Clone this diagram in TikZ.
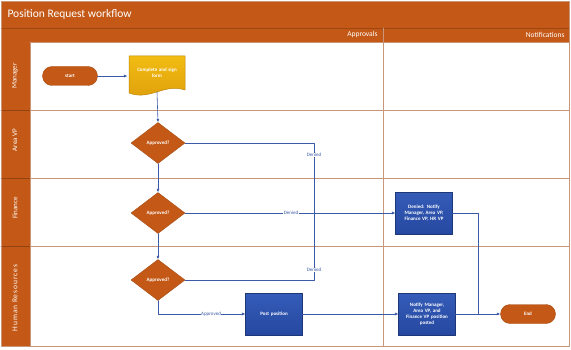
\documentclass[tikz,border=0pt]{standalone}
\usepackage{fontspec}
\setmainfont{Carlito}
\usetikzlibrary{shapes.geometric,arrows.meta}
\definecolor{laneorange}{RGB}{196,89,23}
\definecolor{lanerule}{RGB}{200,150,122}
\definecolor{flowblue}{RGB}{60,90,168}
\definecolor{boxblue}{RGB}{38,72,160}
\definecolor{boxtop}{RGB}{52,92,184}
\definecolor{docgold}{RGB}{242,188,18}
\definecolor{docdark}{RGB}{222,158,12}
\tikzset{
  flow/.style={draw=flowblue, line width=0.6pt},
  arr/.style={flow, -{Latex[length=3.5pt,width=3pt]}},
  shapetext/.style={text=white, font=\fontsize{5}{6}\selectfont\bfseries},
  terminal/.style={rectangle, rounded corners=9.5pt, fill=laneorange, draw=laneorange!85!black,
    minimum width=55pt, minimum height=19pt, shapetext},
  decision/.style={diamond, aspect=1.3, fill=laneorange, draw=laneorange!85!black, inner sep=0pt,
    minimum width=54pt, minimum height=41pt, shapetext},
  process/.style={rectangle, top color=boxtop, bottom color=boxblue, draw=boxblue!75!black,
    minimum width=55pt, minimum height=42pt, text width=50pt, align=center, shapetext},
  flowlabel/.style={fill=white, inner sep=0.6pt, text=flowblue, font=\fontsize{5}{6}\selectfont},
  lanetitle/.style={rotate=90, text=white, font=\fontsize{7}{8}\selectfont},
}
\begin{document}
\begin{tikzpicture}[x=1pt,y=1pt,line cap=round,line join=round]
  \useasboundingbox (0,0) rectangle (571,349);
  % pool frame and bars
  \fill[white] (1,3) rectangle (569,348);
  \fill[laneorange] (1,307) rectangle (569,348);
  \fill[laneorange] (1,3) rectangle (30,307);
  \draw[laneorange!80!black, line width=0.5pt] (1,321) -- (569,321);
  \node[anchor=west, text=white, font=\fontsize{11.5}{13}\selectfont] (title) at (4,335) {Position Request workflow};
  \node[anchor=east, text=white, font=\fontsize{7.5}{9}\selectfont] (approvals) at (381,314) {Approvals};
  \node[anchor=east, text=white, font=\fontsize{7.5}{9}\selectfont] (notifications) at (568,314) {Notifications};
  % lanes
  \foreach \y in {239,171,103} {
    \draw[lanerule, line width=0.7pt] (30,\y) -- (569,\y);
    \draw[laneorange!75!black, line width=0.7pt] (1,\y) -- (30,\y);
  }
  \draw[lanerule, line width=0.7pt] (30,307) -- (569,307);
  \draw[lanerule, line width=0.7pt] (30,3) -- (30,307);
  \draw[lanerule, line width=0.7pt] (383,3) -- (383,321);
  \draw[lanerule, line width=0.8pt] (1,3) rectangle (569,348);
  \node[lanetitle] (manager) at (15,273) {Manager};
  \node[lanetitle] (areavp) at (15,209) {Area VP};
  \node[lanetitle] (finance) at (15,141) {Finance};
  \node[lanetitle, font=\fontsize{7.5}{9}\selectfont\addfontfeature{LetterSpace=12}] (hr) at (15,51) {Human Resources};
  % shapes
  \node[terminal] (start) at (70,273) {start};
  \path[top color=docgold, bottom color=docdark, draw=docdark!85!black, line width=0.5pt]
    (129,293) -- (185,293) -- (185,259) .. controls (164,266) and (150,248) .. (129,256) -- cycle;
  \node[minimum width=56pt, minimum height=36pt, text width=52pt, align=center, shapetext]
    (form) at (157,276) {Complete and sign\\form};
  \node[decision] (ap1) at (158,206) {Approved?};
  \node[decision] (ap2) at (158,136) {Approved?};
  \node[decision] (ap3) at (158,69) {Approved?};
  \node[process] (deny) at (424,136) {Denied: Notify\\Manager, Area VP,\\Finance VP, HR VP};
  \node[process] (post) at (274,35) {Post position};
  \node[process] (notify) at (427,35) {Notify Manager,\\Area VP, and\\Finance VP position\\posted};
  \node[terminal] (end) at (528,35) {End};
  \coordinate (jtop) at (314,206);
  \coordinate (jbot) at (314,69);
  \coordinate (jend) at (478,35);
  % connectors
  \draw[arr] (start) -- (form.west |- start);
  \draw[arr] (157,257) -- (ap1.north);
  \draw[arr] (ap1) -- (ap2);
  \draw[arr] (ap2) -- (ap3);
  \draw[flow] (ap1.east) -- (jtop) -- (jbot) -- (ap3.east);
  \draw[arr] (ap2.east) -- (deny.west);
  \draw[arr] (ap3.south) |- (post.west);
  \draw[arr] (post) -- (notify);
  \draw[arr] (notify) -- (end);
  \draw[flow] (deny.east) -| (jend);
  \node[flowlabel] (den1) at (314,194) {Denied};
  \node[flowlabel] (den2) at (291,136) {Denied};
  \node[flowlabel] (den3) at (314,79) {Denied};
  \node[flowlabel] (appd) at (211,35) {Approved};
\end{tikzpicture}
\end{document}
